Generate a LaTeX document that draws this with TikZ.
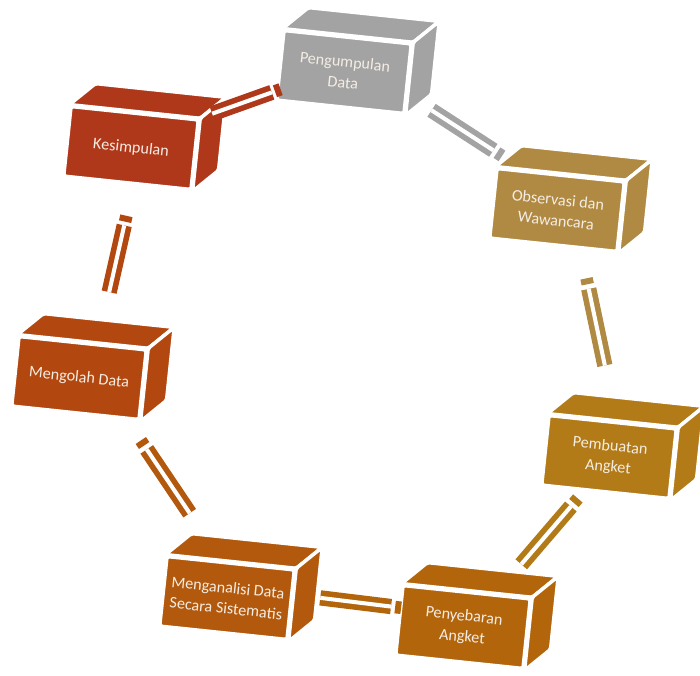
\documentclass[tikz,border=0pt]{standalone}
\usepackage{fontspec}
\setsansfont{Carlito}
\usetikzlibrary{calc}
\definecolor{boxgrey}{HTML}{A3A3A3}
\definecolor{boxtan}{HTML}{B08A42}
\definecolor{boxgold}{HTML}{B27B18}
\definecolor{boxamber}{HTML}{B3650B}
\definecolor{boxorange}{HTML}{B3590D}
\definecolor{boxrust}{HTML}{B2480F}
\definecolor{boxred}{HTML}{B0381A}
\definecolor{boxtext}{HTML}{F4EDE4}

\begin{document}
\begin{tikzpicture}[
    x=0.02cm, y=-0.02cm,
    every node/.style={font=\sffamily\fontsize{9.2}{11.8}\selectfont},
    front/.style={rectangle, draw=white, line width=2pt, rounded corners=1pt,
                  minimum width=2.56cm, minimum height=1.4cm, rotate=-6,
                  text=boxtext, align=center, inner sep=1pt},
    face/.style={draw=white, line width=2pt, rounded corners=1pt},
    bar/.style={draw=#1, line width=3.2pt, double=white, double distance=2.3pt},
    barcap/.style={fill=#1, sloped, inner sep=0pt, minimum width=0.12cm, minimum height=0.25cm}
]
    \useasboundingbox (0,0) rectangle (700,676);

    % === FRONT FACES ===
    \node[front, fill=boxgrey]   (peng)  at (344,72)  {Pengumpulan\\Data};
    \node[front, fill=boxtan]    (obs)   at (557,210) {Observasi dan\\Wawancara};
    \node[front, fill=boxgold]   (pemb)  at (609,457) {Pembuatan\\Angket};
    \node[front, fill=boxamber]  (peny)  at (463,627) {Penyebaran\\Angket};
    \node[front, fill=boxorange] (mena)  at (227,598) {Menganalisi Data\\Secara Sistematis};
    \node[front, fill=boxrust]   (mengo) at (79,378)  {Mengolah Data};
    \node[front, fill=boxred]    (kes)   at (131,148) {Kesimpulan};

    % === TOP AND SIDE FACES ===
    \foreach \n/\c in {peng/boxgrey, obs/boxtan, pemb/boxgold, peny/boxamber,
                       mena/boxorange, mengo/boxrust, kes/boxred} {
        \filldraw[face, fill=\c] (\n.north west) -- ++(26,-21)
            -- ($(\n.north east)+(26,-21)$) -- (\n.north east) -- cycle;
        \filldraw[face, fill=\c] (\n.north east) -- ++(26,-21)
            -- ($(\n.south east)+(26,-21)$) -- (\n.south east) -- cycle;
        \coordinate (\n v) at ($(\n)+(13,-10)$);
    }

    % === CONNECTORS ===
    \foreach \a/\b/\c/\p/\s/\e in {peng/obs/boxgrey/1.1/0.35/0.64, obs/pemb/boxtan/-0.1/0.36/0.67,
                                   pemb/peny/boxgold/-0.1/0.35/0.69, peny/mena/boxamber/-0.1/0.36/0.66,
                                   mena/mengo/boxorange/1.1/0.34/0.63, mengo/kes/boxrust/1.1/0.33/0.62,
                                   kes/peng/boxred/1.1/0.32/0.6} {
        \draw[bar=\c] ($(\a v)!\s!(\b v)$) -- node[barcap=\c, pos=\p] {}
            ($(\a v)!\e!(\b v)$);
    }
\end{tikzpicture}
\end{document}
